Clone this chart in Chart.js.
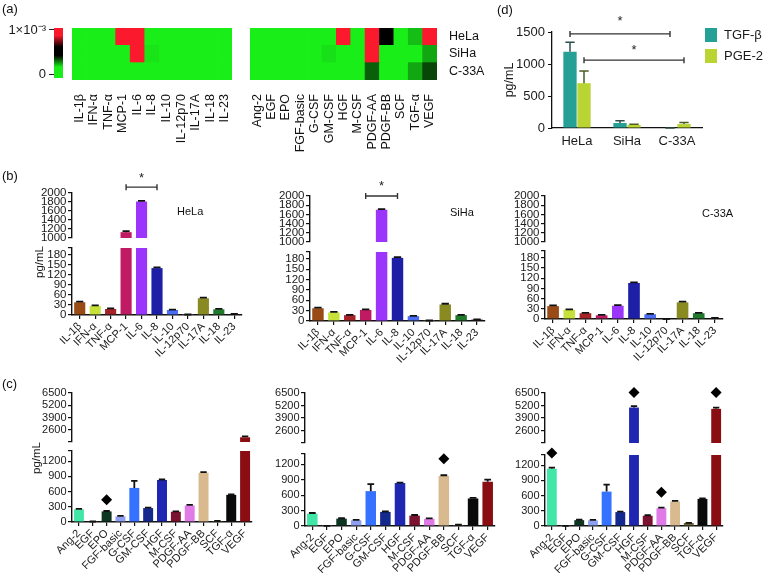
<!DOCTYPE html>
<html>
<head>
<meta charset="utf-8">
<script src="https://cdn.jsdelivr.net/npm/chart.js@4.4.1/dist/chart.umd.min.js"></script>
<style>
  body { margin: 0; background: #fff; width: 764px; height: 573px; position: relative; overflow: hidden;
         font-family: "Liberation Sans", Arial, sans-serif; }
  canvas { position: absolute; left: 0; top: 0; }
  .lbl { position: absolute; font-size: 13px; color: #111; white-space: nowrap; z-index: 5; }
</style>
</head>
<body>
<div class="lbl" style="left:2px;top:1px">(a)</div>
<div class="lbl" style="left:2px;top:168px">(b)</div>
<div class="lbl" style="left:2px;top:376px">(c)</div>
<div class="lbl" style="left:497px;top:2px">(d)</div>
<div class="lbl" style="left:177px;top:205px;font-size:11px">HeLa</div>
<div class="lbl" style="left:450px;top:206px;font-size:11px">SiHa</div>
<div class="lbl" style="left:702px;top:207px;font-size:11px">C-33A</div>

<canvas id="cbar" width="764" height="573"></canvas>
<canvas id="heat1" width="764" height="573"></canvas>
<canvas id="heat2" width="764" height="573"></canvas>
<canvas id="chartD" width="764" height="573"></canvas>
<canvas id="b1" width="764" height="573"></canvas>
<canvas id="b2" width="764" height="573"></canvas>
<canvas id="b3" width="764" height="573"></canvas>
<canvas id="c1" width="764" height="573"></canvas>
<canvas id="c2" width="764" height="573"></canvas>
<canvas id="c3" width="764" height="573"></canvas>

<script>
// categories
const cellLines = ['HeLa', 'SiHa', 'C-33A'];
const cytokines = ['IL-1β', 'IFN-α', 'TNF-α', 'MCP-1', 'IL-6', 'IL-8', 'IL-10', 'IL-12p70', 'IL-17A', 'IL-18', 'IL-23'];
const growthFactors = ['Ang-2', 'EGF', 'EPO', 'FGF-basic', 'G-CSF', 'GM-CSF', 'HGF', 'M-CSF', 'PDGF-AA', 'PDGF-BB', 'SCF', 'TGF-α', 'VEGF'];

// (a) heatmap values, in units of 1e-3
const heatCytoHeLa = [0, 0, 0, 1, 1, 0, 0, 0, 0, 0, 0];
const heatCytoSiHa = [0, 0, 0, 0, 1, 0.02, 0, 0, 0, 0, 0];
const heatCytoC33A = [0, 0, 0, 0, 0, 0, 0, 0, 0, 0, 0];
const heatGfHeLa = [0, 0, 0, 0, 0, 0, 1, 0, 1, 0.5, 0, 0.1, 1];
const heatGfSiHa = [0, 0, 0, 0, 0, 0.03, 0, 0, 1, 0, 0, 0, 0.15];
const heatGfC33A = [0, 0, 0, 0, 0, 0, 0, 0, 0.3, 0, 0, 0.15, 0.35];
const colorScaleMin = -0.00009;
const colorScaleMax = 0.001045;

// (b) cytokines, pg/mL
const cytoHeLa = [38, 27, 18, 1130, 1810, 140, 15, 1, 50, 17, 3];
const cytoHeLaErr = [2, 1.5, 1.5, 25, 15, 2, 1, 0.5, 2, 1.5, 0.5];
const cytoSiHa = [37, 25, 17, 32, 1700, 183, 14, 1, 48, 17, 4];
const cytoSiHaErr = [2, 1.5, 1, 1.5, 15, 2, 1, 0.5, 2, 1, 0.5];
const cytoC33A = [38, 27, 17, 11, 39, 106, 14, 0, 49, 17, 3];
const cytoC33AErr = [2, 1.5, 1, 1, 2, 2, 1, 0, 2, 1, 0.5];

// (c) growth factors, pg/mL
const gfHeLa = [248, 8, 209, 111, 672, 274, 828, 202, 326, 972, 20, 535, 1800];
const gfHeLaErr = [12, 2, 8, 8, 137, 8, 10, 8, 12, 12, 4, 10, 90];
const gfHeLaSig = [null, null, 440, null, null, null, null, null, null, null, null, null, null];
const gfSiHa = [241, 3, 143, 111, 678, 274, 835, 202, 140, 975, 20, 535, 860];
const gfSiHaErr = [12, 1, 8, 8, 137, 8, 8, 12, 10, 12, 4, 10, 40];
const gfSiHaSig = [null, null, null, null, null, null, null, null, null, 1310, null, null, null];
const gfC33A = [1130, 3, 115, 111, 678, 274, 4990, 202, 352, 483, 59, 535, 4850];
const gfC33AErr = [20, 1, 8, 8, 137, 8, 150, 10, 10, 12, 4, 10, 120];
const gfC33ASig = [1440, null, null, null, null, null, 6550, null, 665, null, null, null, 6550];

// (d) TGF-beta and PGE-2, pg/mL
const tgfB = [1190, 78, 0];
const tgfBErr = [150, 35, 0];
const pge2 = [700, 50, 62];
const pge2Err = [190, 10, 22];

// axis ticks
const bLowerTicks = [0, 30, 60, 90, 120, 150, 180];
const bUpperTicks = [1000, 1200, 1400, 1600, 1800, 2000];
const cLowerTicks = [0, 300, 600, 900, 1200];
const cUpperTicks = [2600, 3900, 5200, 6500];

const cytokineColors = ['#9a4a14', '#c6e23a', '#a52226', '#c01a62', '#9b35fb', '#1d1fa6', '#4b6cf5', '#8a8a8a', '#8a8a22', '#1f7a2c', '#1a1a1a'];
const gfColors = ['#42e6a6', '#3a6a44', '#0e3522', '#8d9ff0', '#3472ff', '#13298e', '#1f26b2', '#7b1232', '#e07ae6', '#d9ba8e', '#6b6032', '#0a0a0a', '#8a0d14'];

Chart.defaults.font.family = '"Liberation Sans", Arial, sans-serif';
Chart.defaults.color = '#1a1a1a';
Chart.defaults.animation = false;
Chart.defaults.responsive = false;
Chart.defaults.plugins.legend.display = false;
Chart.defaults.plugins.tooltip.enabled = false;

const W = 764, H = 573, Y_W = 40;

const errorBars = {
  id: 'errorBars',
  afterDatasetsDraw(chart) {
    const ctx = chart.ctx;
    chart.data.datasets.forEach((ds, i) => {
      if (!ds.errors) return;
      const meta = chart.getDatasetMeta(i);
      const ys = chart.scales[meta.yAxisID];
      meta.data.forEach((bar, j) => {
        const v = ds.data[j];
        if (v == null) return;
        if (ds.full && ds.full[j] > v) return;
        const top = ys.getPixelForValue(v + ds.errors[j]);
        const half = bar.width * (ds.capRatio || 0.32);
        ctx.save();
        ctx.strokeStyle = ds.errorColor || '#111';
        ctx.lineWidth = ds.errorWidth || 1.8;
        ctx.beginPath();
        ctx.moveTo(bar.x, bar.y);
        ctx.lineTo(bar.x, top);
        ctx.moveTo(bar.x - half, top);
        ctx.lineTo(bar.x + half, top);
        ctx.stroke();
        ctx.restore();
      });
    });
  }
};

const sigBrackets = {
  id: 'sigBrackets',
  afterDraw(chart, args, opts) {
    const items = opts.items || [];
    const ctx = chart.ctx;
    items.forEach(b => {
      const meta = chart.getDatasetMeta(b.ds);
      const x1 = meta.data[b.from].x, x2 = meta.data[b.to].x;
      const y = chart.scales[b.axis].getPixelForValue(b.value);
      ctx.save();
      ctx.strokeStyle = '#333';
      ctx.lineWidth = 1.4;
      ctx.beginPath();
      ctx.moveTo(x1, y); ctx.lineTo(x2, y);
      ctx.moveTo(x1, y - 3); ctx.lineTo(x1, y + 3);
      ctx.moveTo(x2, y - 3); ctx.lineTo(x2, y + 3);
      ctx.stroke();
      ctx.fillStyle = '#222';
      ctx.font = '13px "Liberation Sans", Arial, sans-serif';
      ctx.textAlign = 'center';
      ctx.textBaseline = 'alphabetic';
      ctx.fillText('*', (x1 + x2) / 2, y - b.gap + 7);
      ctx.restore();
    });
  }
};

const yTitle = {
  id: 'yTitle',
  afterDraw(chart, args, opts) {
    if (!opts.text) return;
    const ctx = chart.ctx;
    ctx.save();
    ctx.translate(opts.x, opts.y);
    ctx.rotate(-Math.PI / 2);
    ctx.fillStyle = '#1a1a1a';
    ctx.font = (opts.size || 12) + 'px "Liberation Sans", Arial, sans-serif';
    ctx.textAlign = 'center';
    ctx.textBaseline = 'middle';
    ctx.fillText(opts.text, 0, 0);
    ctx.restore();
  }
};

const boxLegend = {
  id: 'boxLegend',
  afterDraw(chart, args, opts) {
    if (opts.x == null) return;
    const ctx = chart.ctx;
    chart.data.datasets.forEach((ds, i) => {
      const y = opts.y + i * opts.gap;
      ctx.save();
      ctx.fillStyle = ds.backgroundColor;
      ctx.fillRect(opts.x, y, opts.w, opts.h);
      ctx.fillStyle = '#1a1a1a';
      ctx.font = opts.size + 'px "Liberation Sans", Arial, sans-serif';
      ctx.textBaseline = 'middle';
      ctx.fillText(ds.label, opts.x + opts.w + 7, y + opts.h / 2);
      ctx.restore();
    });
  }
};

Chart.register(errorBars, sigBrackets, yTitle, boxLegend);

function heatColor(v) {
  if (v <= 0.5) {
    const k = 1 - 2 * v;
    return `rgb(${Math.round(25 * k)},${Math.round(238 * k)},${Math.round(25 * k)})`;
  }
  const k = 2 * v - 1;
  return `rgb(${Math.round(250 * k)},${Math.round(25 * k)},${Math.round(45 * k)})`;
}

// colour key of (a)
new Chart(document.getElementById('cbar'), {
  type: 'bar',
  data: {
    labels: [''],
    datasets: [{
      data: [[colorScaleMin, colorScaleMax]],
      barPercentage: 1, categoryPercentage: 1,
      backgroundColor(c) {
        const a = c.chart.chartArea;
        if (!a) return '#000';
        const g = c.chart.ctx.createLinearGradient(0, a.bottom, 0, a.top);
        g.addColorStop(0, heatColor(0));
        g.addColorStop(0.22, heatColor(0));
        g.addColorStop(0.45, '#000');
        g.addColorStop(0.62, '#000');
        g.addColorStop(0.85, heatColor(1));
        g.addColorStop(1, heatColor(1));
        return g;
      }
    }]
  },
  options: {
    layout: { padding: { left: 0, right: W - 63, top: 28, bottom: H - 78 } },
    scales: {
      x: { display: false },
      y: {
        min: colorScaleMin, max: colorScaleMax,
        afterBuildTicks: s => { s.ticks = [{ value: 0 }, { value: 0.001 }]; },
        afterFit: s => { s.width = 54; },
        ticks: { font: { size: 13 }, padding: 3, callback: v => (v === 0 ? '0' : '1×10⁻³') },
        grid: { drawOnChartArea: false, tickLength: 5, color: '#222' },
        border: { display: false }
      }
    }
  }
});

function heatmap(id, labels, rows, box, rowLabels) {
  const datasets = rows.slice().reverse().map(r => ({
    data: r.map(() => 1),
    backgroundColor: r.map(heatColor),
    barPercentage: 1, categoryPercentage: 1, borderWidth: 0
  }));
  const scales = {
    x: {
      stacked: true,
      grid: { display: false }, border: { display: false },
      ticks: { autoSkip: false, minRotation: 90, maxRotation: 90, font: { size: 12.5 }, padding: 6, color: '#111' },
      afterFit: s => { s.height = 75; }
    },
    y: { stacked: true, display: false, min: 0, max: rows.length }
  };
  if (rowLabels) {
    scales.yr = {
      type: 'category', labels: rowLabels, position: 'right', offset: true,
      grid: { display: false }, border: { display: false },
      ticks: { autoSkip: false, font: { size: 12.5 }, padding: 4, color: '#111' },
      afterFit: s => { s.width = 50; }
    };
  }
  new Chart(document.getElementById(id), {
    type: 'bar',
    data: { labels, datasets },
    options: {
      layout: { padding: { left: box.left, right: W - box.right - (rowLabels ? 50 : 0), top: box.top, bottom: H - box.bottom - 75 } },
      scales
    }
  });
}

heatmap('heat1', cytokines, [heatCytoHeLa, heatCytoSiHa, heatCytoC33A], { left: 72, right: 232, top: 28, bottom: 80 });
heatmap('heat2', growthFactors, [heatGfHeLa, heatGfSiHa, heatGfC33A], { left: 250, right: 437, top: 28, bottom: 80 }, cellLines);

// (d)
new Chart(document.getElementById('chartD'), {
  type: 'bar',
  data: {
    labels: cellLines,
    datasets: [
      { label: 'TGF-β', data: tgfB, errors: tgfBErr, backgroundColor: '#24a097', barPercentage: 0.95, categoryPercentage: 0.56,
        errorColor: '#2d4f4d', errorWidth: 1.5, capRatio: 0.35 },
      { label: 'PGE-2', data: pge2, errors: pge2Err, backgroundColor: '#b9d433', barPercentage: 0.95, categoryPercentage: 0.56,
        errorColor: '#4d5a22', errorWidth: 1.5, capRatio: 0.35 }
    ]
  },
  options: {
    layout: { padding: { left: 552 - Y_W, right: W - 702, top: 32, bottom: H - 128 - 26 } },
    scales: {
      x: {
        grid: { display: false, drawTicks: false }, border: { color: '#111', width: 1.3 },
        ticks: { font: { size: 13 }, padding: 6 },
        afterFit: s => { s.height = 26; }
      },
      y: {
        min: 0, max: 1500,
        ticks: { stepSize: 500, font: { size: 13 }, padding: 3, callback: v => String(v) },
        grid: { drawOnChartArea: false, tickLength: 4, color: '#111' },
        border: { color: '#111', width: 1.3 },
        afterFit: s => { s.width = Y_W; }
      }
    },
    plugins: {
      sigBrackets: { items: [
        { ds: 0, from: 0, to: 2, value: 1470, axis: 'y', gap: 16 },
        { ds: 1, from: 0, to: 2, value: 1060, axis: 'y', gap: 13 }
      ] },
      yTitle: { text: 'pg/mL', x: 510, y: 80, size: 12.5 },
      boxLegend: { x: 705, y: 28, gap: 21, w: 12, h: 14, size: 13 }
    }
  }
});

// bar chart with a broken y axis: upper and lower segments are two stacked scales
function brokenBars(id, o) {
  const lower = o.values.map(v => Math.min(v, o.lowerMax));
  const upper = o.values.map(v => (v > o.upperMin ? v : null));
  const split = o.upperTicks[0];
  const marks = o.marks || [];
  const marksLower = marks.map(v => (v != null && v < split ? v : null));
  const marksUpper = marks.map(v => (v != null && v >= split ? v : null));
  const bar = { backgroundColor: o.colors, grouped: false, barPercentage: 0.72, categoryPercentage: 1, borderWidth: 0, errors: o.errors };
  const diamond = { type: 'line', showLine: false, pointStyle: 'rectRot', pointRadius: 5.5, pointBackgroundColor: '#000', pointBorderWidth: 0, clip: false };
  const tickFont = { size: o.tickSize };
  const yAxis = (w, min, max, ticks, labeled) => ({
    type: 'linear', position: 'left', stack: 'v', stackWeight: w, min, max,
    afterBuildTicks: s => { s.ticks = ticks.map(value => ({ value })); },
    afterFit: s => { s.width = Y_W; },
    ticks: { autoSkip: false, font: tickFont, padding: 1.5, callback: v => (labeled.includes(v) ? String(v) : '') },
    grid: { drawOnChartArea: false, tickLength: 4, color: '#111', lineWidth: 1.2 },
    border: { color: '#111', width: 1.4 }
  });
  const upperList = o.upperTicks.includes(o.upperMin) ? o.upperTicks : [o.upperMin].concat(o.upperTicks);
  // left-hand stacked scales are laid out in reverse order: lower segment first
  const scales = {
    x: {
      grid: { drawOnChartArea: false, offset: false, tickLength: 4, color: '#111', lineWidth: 1.2 },
      border: { color: '#111', width: 1.4 },
      ticks: { autoSkip: false, minRotation: 45, maxRotation: 45, font: { size: 11 }, padding: 1 },
      afterFit: s => { s.height = o.xHeight; }
    },
    yL: yAxis(o.weights[2], 0, o.lowerMax, o.lowerTicks.concat([o.lowerMax]), o.lowerTicks),
    yG: {
      type: 'linear', position: 'left', stack: 'v', stackWeight: o.weights[1],
      grid: { display: false }, border: { display: false }, ticks: { display: false },
      afterFit: s => { s.width = Y_W; }
    },
    yU: yAxis(o.weights[0], o.upperMin, o.upperMax, upperList, o.upperTicks)
  };
  new Chart(document.getElementById(id), {
    type: 'bar',
    data: {
      labels: o.labels,
      datasets: [
        Object.assign({ data: lower, full: o.values, yAxisID: 'yL' }, bar),
        Object.assign({ data: upper, yAxisID: 'yU' }, bar),
        Object.assign({ data: marksLower, yAxisID: 'yL' }, diamond),
        Object.assign({ data: marksUpper, yAxisID: 'yU' }, diamond)
      ]
    },
    options: {
      layout: { padding: { left: o.box.left - Y_W, right: W - o.box.right, top: o.box.top, bottom: H - o.box.bottom - o.xHeight } },
      scales,
      plugins: {
        sigBrackets: { items: o.brackets || [] },
        yTitle: o.yTitle || {}
      }
    }
  });
}

const bAxis = { lowerMax: 200, lowerTicks: bLowerTicks, upperMin: 1000, upperMax: 2000, upperTicks: bUpperTicks, xHeight: 48, tickSize: 11.5 };
const cAxis = { lowerMax: 1400, lowerTicks: cLowerTicks, upperMin: 1300, upperMax: 6500, upperTicks: cUpperTicks, xHeight: 47, tickSize: 11 };

brokenBars('b1', Object.assign({
  labels: cytokines, values: cytoHeLa, errors: cytoHeLaErr, colors: cytokineColors,
  box: { left: 72, right: 242, top: 193, bottom: 315 }, weights: [45, 10, 67],
  brackets: [{ ds: 0, from: 3, to: 5, value: 2130, axis: 'yU', gap: 12 }],
  yTitle: { text: 'pg/mL', x: 40, y: 262, size: 11.5 }
}, bAxis));
brokenBars('b2', Object.assign({
  labels: cytokines, values: cytoSiHa, errors: cytoSiHaErr, colors: cytokineColors,
  box: { left: 310, right: 485, top: 196, bottom: 321 }, weights: [46, 10, 69],
  brackets: [{ ds: 0, from: 3, to: 5, value: 2000, axis: 'yU', gap: 13 }]
}, bAxis));
brokenBars('b3', Object.assign({
  labels: cytokines, values: cytoC33A, errors: cytoC33AErr, colors: cytokineColors,
  box: { left: 545, right: 723, top: 196, bottom: 319 }, weights: [46, 9, 68]
}, bAxis));

brokenBars('c1', Object.assign({
  labels: growthFactors, values: gfHeLa, errors: gfHeLaErr, colors: gfColors, marks: gfHeLaSig,
  box: { left: 72, right: 252, top: 393, bottom: 522 }, weights: [49, 9, 71],
  yTitle: { text: 'pg/mL', x: 37, y: 458, size: 11.5 }
}, cAxis));
brokenBars('c2', Object.assign({
  labels: growthFactors, values: gfSiHa, errors: gfSiHaErr, colors: gfColors, marks: gfSiHaSig,
  box: { left: 305, right: 495, top: 393, bottom: 526 }, weights: [50, 11, 72]
}, cAxis));
brokenBars('c3', Object.assign({
  labels: growthFactors, values: gfC33A, errors: gfC33AErr, colors: gfColors, marks: gfC33ASig,
  box: { left: 545, right: 723, top: 393, bottom: 526 }, weights: [50, 12, 71]
}, cAxis));
</script>
</body>
</html>
